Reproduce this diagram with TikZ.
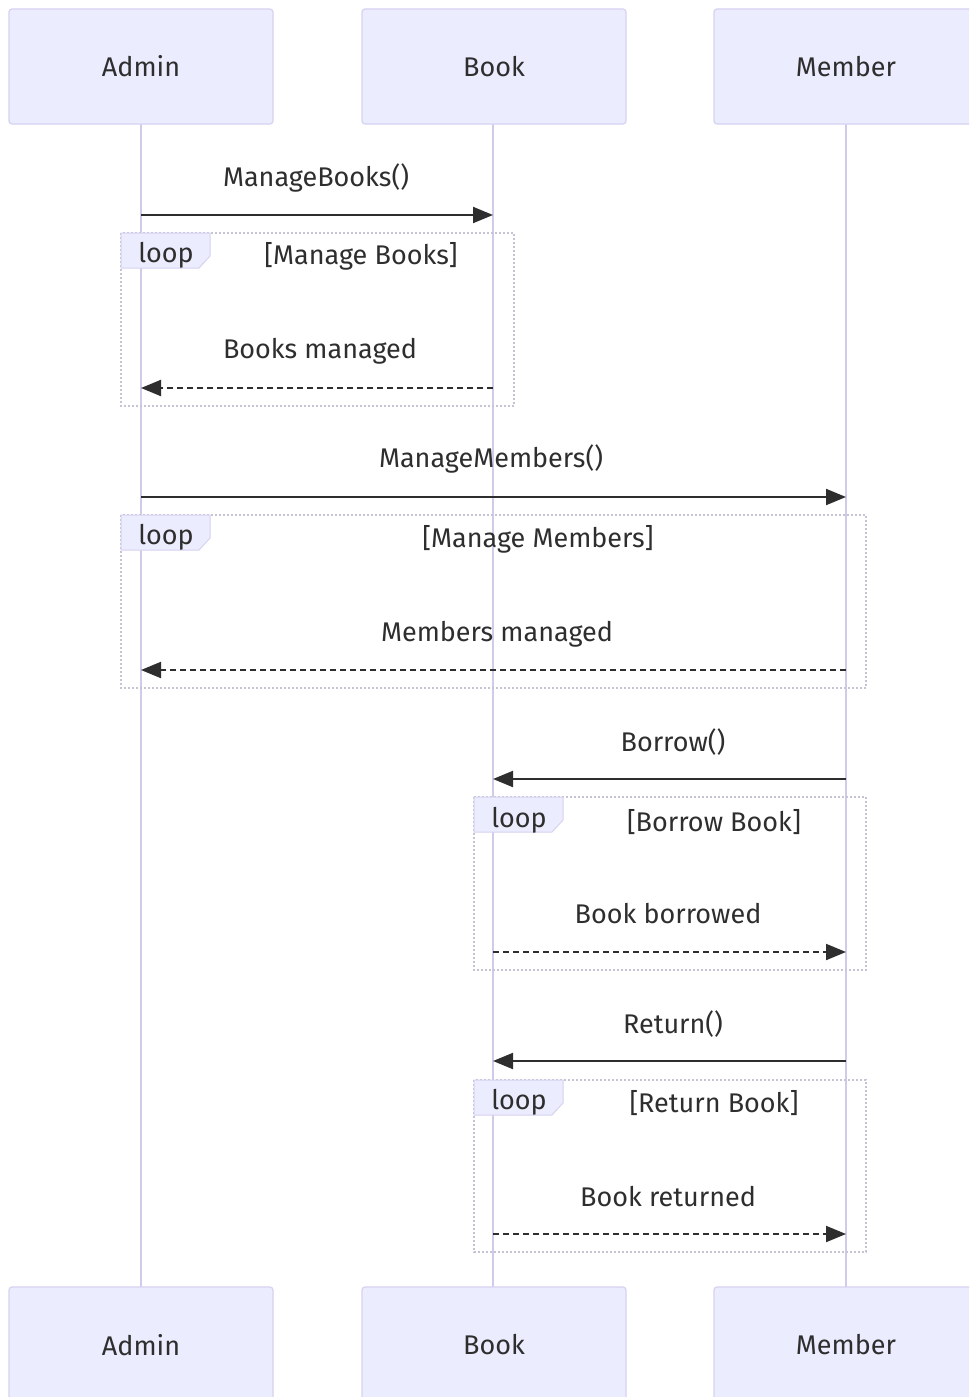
\documentclass[tikz,border=0pt]{standalone}
\usepackage{fontspec}
\setmainfont{Fira Sans}
\usetikzlibrary{arrows.meta}
\definecolor{actfill}{HTML}{ECECFF}
\definecolor{actline}{HTML}{D6D2F0}
\definecolor{lifeline}{HTML}{CFCCEB}
\definecolor{txt}{HTML}{2E2E2E}
\definecolor{loopline}{HTML}{C4C4D4}
\tikzset{
  actor/.style={draw=actline, fill=actfill, line width=1.2pt, rounded corners=3pt,
    minimum width=264pt, minimum height=115pt, inner sep=0pt, text=txt, font=\fontsize{27}{32}\selectfont},
  life/.style={draw=lifeline, line width=2pt},
  msg/.style={draw=txt, line width=2pt, -{Triangle[length=20pt,width=16pt]}},
  reply/.style={msg, dash pattern=on 6pt off 4pt},
  lbl/.style={text=txt, font=\fontsize{27}{32}\selectfont, inner sep=0pt},
  loopbox/.style={draw=loopline, line width=2pt, dash pattern=on 2pt off 2pt},
  looptab/.style={draw=actline, fill=actfill, line width=1pt},
}
\begin{document}
\begin{tikzpicture}[x=1pt,y=-1pt]
\useasboundingbox (0,0) rectangle (969,1397);
\clip (0,0) rectangle (969,1397);
\fill[white] (0,0) rectangle (969,1397);
% lifelines
\coordinate (Atop) at (141,124); \coordinate (Abot) at (141,1287);
\coordinate (Btop) at (493,124); \coordinate (Bbot) at (493,1287);
\coordinate (Mtop) at (846,124); \coordinate (Mbot) at (846,1287);
\draw[life] (Atop) -- (Abot);
\draw[life] (Btop) -- (Bbot);
\draw[life] (Mtop) -- (Mbot);
% actors
\node[actor] (A1) at (141,66.5) {Admin};
\node[actor] (B1) at (494,66.5) {Book};
\node[actor] (M1) at (846,66.5) {Member};
\node[actor, minimum height=130pt] (A2) at (141,1352) {};
\node[actor, minimum height=130pt] (B2) at (494,1352) {};
\node[actor, minimum height=130pt] (M2) at (846,1352) {};
\node[lbl] (A2t) at (141,1345) {Admin};
\node[lbl] (B2t) at (494,1345) {Book};
\node[lbl] (M2t) at (846,1345) {Member};
% loop boxes
\draw[loopbox] (121,233) rectangle (514,406);
\draw[loopbox] (121,515) rectangle (866,688);
\draw[loopbox] (474,797) rectangle (866,970);
\draw[loopbox] (474,1080) rectangle (866,1252);
\draw[looptab] (121,233) -- (210,233) -- (210,256) -- (199,268) -- (121,268) -- cycle;
\draw[looptab] (121,515) -- (210,515) -- (210,538) -- (199,550) -- (121,550) -- cycle;
\draw[looptab] (474,797) -- (563,797) -- (563,820) -- (552,832) -- (474,832) -- cycle;
\draw[looptab] (474,1080) -- (563,1080) -- (563,1103) -- (552,1115) -- (474,1115) -- cycle;
\node[lbl] (L1) at (166,255) {loop};
\node[lbl] (L2) at (166,537) {loop};
\node[lbl] (L3) at (519,820) {loop};
\node[lbl] (L4) at (519,1102) {loop};
\node[lbl] (C1) at (361,256) {[Manage Books]};
\node[lbl] (C2) at (538,539) {[Manage Members]};
\node[lbl] (C3) at (714,822) {[Borrow Book]};
\node[lbl] (C4) at (714,1103) {[Return Book]};
% messages
\coordinate (a1) at (141,215); \coordinate (b1) at (493,215);
\node[lbl] (t1) at (316,178) {ManageBooks()};
\draw[msg] (a1) -- (b1);
\coordinate (a2) at (141,388); \coordinate (b2) at (493,388);
\node[lbl] (t2) at (320,351) {Books managed};
\draw[reply] (b2) -- (a2);
\coordinate (a3) at (141,497); \coordinate (m3) at (846,497);
\node[lbl] (t3) at (491,459) {ManageMembers()};
\draw[msg] (a3) -- (m3);
\coordinate (a4) at (141,670); \coordinate (m4) at (846,670);
\node[lbl] (t4) at (497,634) {Members managed};
\draw[reply] (m4) -- (a4);
\coordinate (b5) at (493,779); \coordinate (m5) at (846,779);
\node[lbl] (t5) at (673,742) {Borrow()};
\draw[msg] (m5) -- (b5);
\coordinate (b6) at (493,952); \coordinate (m6) at (846,952);
\node[lbl] (t6) at (668,914) {Book borrowed};
\draw[reply] (b6) -- (m6);
\coordinate (b7) at (493,1061); \coordinate (m7) at (846,1061);
\node[lbl] (t7) at (673,1024) {Return()};
\draw[msg] (m7) -- (b7);
\coordinate (b8) at (493,1234); \coordinate (m8) at (846,1234);
\node[lbl] (t8) at (668,1197) {Book returned};
\draw[reply] (b8) -- (m8);
\end{tikzpicture}
\end{document}
